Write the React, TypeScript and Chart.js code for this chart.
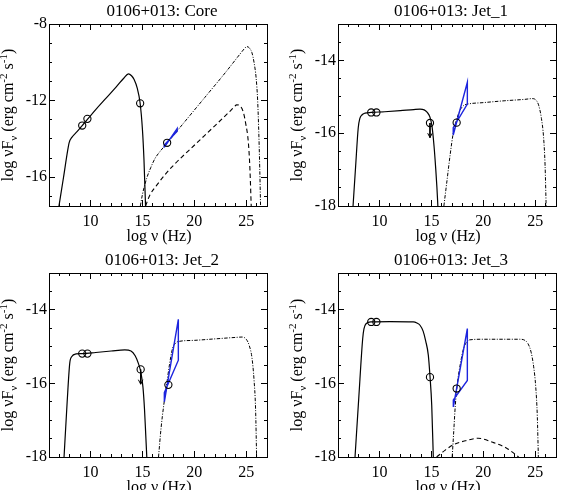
import React, { useEffect, useRef } from "react";
import { Chart, registerables } from "chart.js";

Chart.register(...registerables);

type P = [number, number];

// ---------- axes ----------
const X_MIN = 6;
const X_MAX = 27;
const xMajorTicks = [10, 15, 20, 25];
const xMinorTicks = [7, 8, 9, 11, 12, 13, 14, 16, 17, 18, 19, 21, 22, 23, 24, 26];

const coreYRange: P = [-17.5, -8];
const coreYMajor = [-16, -12, -8];
const coreYMinor = [-17, -15, -14, -13, -11, -10, -9];

const jetYRange: P = [-18, -13];
const jetYMajor = [-18, -16, -14];
const jetYMinor = [-17.5, -17, -16.5, -15.5, -15, -14.5, -13.5, -13];

const panelTitles = ["0106+013: Core", "0106+013: Jet_1", "0106+013: Jet_2", "0106+013: Jet_3"];

// ---------- Core ----------
const coreSynchrotron: P[] = [
  [6.96, -17.5], [7.4, -16.0], [7.8, -14.6], [7.95, -14.18], [8.2, -13.92], [8.7, -13.62],
  [9.2, -13.3], [9.7, -12.98], [10.5, -12.47], [11.5, -11.87], [12.5, -11.27], [13.2, -10.83],
  [13.65, -10.6], [13.95, -10.7], [14.2, -10.9], [14.5, -11.35], [14.77, -12.1], [15.0, -13.5],
  [15.15, -15.1], [15.3, -17.5],
];
const coreDashDot: P[] = [
  [14.8, -17.5], [15.0, -16.9], [15.4, -16.07], [15.8, -15.5], [16.2, -15.03], [16.7, -14.65],
  [17.2, -14.33], [17.4, -14.2], [19, -13.15], [21, -11.84], [23, -10.53], [24.5, -9.5],
  [24.85, -9.27], [25.05, -9.18], [25.3, -9.25], [25.55, -9.5], [25.75, -10.0], [25.95, -10.8],
  [26.1, -12.0], [26.2, -13.5], [26.3, -15.5], [26.38, -17.5],
];
const coreDashed: P[] = [
  [15.3, -17.5], [15.7, -16.95], [16.4, -16.4], [17.2, -15.85], [18, -15.37], [20, -14.33],
  [22, -13.3], [23.4, -12.57], [23.85, -12.32], [24.08, -12.22], [24.45, -12.3], [24.72, -12.6],
  [24.95, -13.2], [25.2, -14.16], [25.35, -15.5], [25.48, -17.5],
];
const coreFluxes: P[] = [[9.2, -13.3], [9.7, -12.95], [14.78, -12.14], [17.38, -14.2]];
const coreUpperLimits: P[] = [];
const coreUpperLimitTips: P[] = [];
const coreBowtie: P[] = [[17.1, -14.44], [18.35, -13.45], [18.35, -13.6], [17.1, -14.32], [17.1, -14.44]];

// ---------- Jet_1 ----------
const jet1Synchrotron: P[] = [
  [7.45, -18], [7.7, -16.9], [7.95, -15.85], [8.1, -15.6], [8.3, -15.5], [8.6, -15.45],
  [9.2, -15.43], [10.5, -15.41], [12, -15.38], [13.3, -15.35], [13.9, -15.34], [14.3, -15.36],
  [14.6, -15.43], [14.85, -15.55], [15.05, -15.8], [15.25, -16.35], [15.42, -17.0], [15.53, -17.5],
  [15.62, -18],
];
const jet1DashDot: P[] = [
  [16.2, -18], [16.5, -17.3], [16.8, -16.6], [17.1, -16.0], [17.4, -15.65], [17.7, -15.4],
  [18.1, -15.24], [18.5, -15.2], [20, -15.16], [22, -15.11], [24, -15.07], [24.7, -15.05],
  [25.1, -15.1], [25.35, -15.25], [25.6, -15.6], [25.8, -16.1], [25.95, -16.9], [26.05, -18],
];
const jet1Dashed: P[] = [];
const jet1Fluxes: P[] = [[9.2, -15.43], [9.7, -15.43], [17.43, -15.71]];
const jet1UpperLimits: P[] = [[14.86, -15.72]];
const jet1UpperLimitTips: P[] = [[14.86, -16.12]];
const jet1Bowtie: P[] = [[17.1, -16.05], [18.46, -14.6], [18.46, -15.2], [17.1, -15.85], [17.1, -16.05]];

// ---------- Jet_2 ----------
const jet2Synchrotron: P[] = [
  [7.45, -18], [7.75, -16.5], [8.0, -15.45], [8.2, -15.27], [8.6, -15.2], [9.2, -15.19],
  [10.5, -15.16], [12, -15.12], [13.3, -15.09], [13.9, -15.12], [14.3, -15.25], [14.6, -15.45],
  [14.85, -15.7], [15.05, -16.1], [15.2, -16.7], [15.32, -17.4], [15.42, -18],
];
const jet2DashDot: P[] = [
  [16.55, -18], [16.8, -17.2], [17.05, -16.6], [17.3, -16.1], [17.6, -15.5], [17.9, -15.05],
  [18.2, -14.9], [18.5, -14.86], [20, -14.83], [22, -14.79], [24, -14.75], [24.6, -14.74],
  [25.0, -14.8], [25.3, -14.98], [25.55, -15.3], [25.75, -15.9], [25.9, -16.7], [26.0, -18],
];
const jet2Dashed: P[] = [];
const jet2Fluxes: P[] = [[9.2, -15.19], [9.7, -15.19], [17.5, -16.04]];
const jet2UpperLimits: P[] = [[14.83, -15.62]];
const jet2UpperLimitTips: P[] = [[14.83, -16.02]];
const jet2Bowtie: P[] = [[17.11, -16.5], [18.46, -14.26], [18.46, -15.37], [17.11, -16.25], [17.11, -16.5]];

// ---------- Jet_3 ----------
const jet3Synchrotron: P[] = [
  [7.64, -18], [8.0, -16.4], [8.38, -14.78], [8.5, -14.52], [8.7, -14.38], [9.2, -14.33],
  [11, -14.32], [13.25, -14.33], [13.6, -14.36], [13.9, -14.42], [14.2, -14.58], [14.45, -14.85],
  [14.7, -15.23], [14.86, -15.8], [15.03, -16.6], [15.18, -18],
];
const jet3DashDot: P[] = [
  [17.0, -18], [17.15, -17.3], [17.3, -16.6], [17.5, -16.0], [17.8, -15.45], [18.1, -15.05],
  [18.4, -14.87], [18.6, -14.82], [20, -14.8], [22, -14.8], [23.5, -14.8], [24.0, -14.83],
  [24.3, -14.92], [24.6, -15.15], [24.85, -15.55], [25.05, -16.1], [25.2, -16.9], [25.3, -18],
];
const jet3Dashed: P[] = [
  [15.5, -18], [16.3, -17.82], [17.1, -17.67], [18.4, -17.55], [19.5, -17.49], [20.9, -17.6],
  [22.25, -17.76], [23.4, -18],
];
const jet3Fluxes: P[] = [[9.2, -14.33], [9.7, -14.33], [14.86, -15.83], [17.43, -16.14]];
const jet3UpperLimits: P[] = [];
const jet3UpperLimitTips: P[] = [];
const jet3Bowtie: P[] = [[17.11, -16.64], [18.46, -14.51], [18.46, -15.92], [17.11, -16.45], [17.11, -16.64]];

// ---------- panel layout (styles, not data) ----------
interface PanelDef {
  title: string;
  left: number; top: number; w: number; h: number;
  axisLeft: number; axisBottom: number; padTop: number; padRight: number;
  yRange: P; yMajor: number[]; yMinor: number[];
  sync: P[]; dashDot: P[]; dashed: P[]; fluxes: P[]; ul: P[]; ulTips: P[]; bowtie: P[];
}

const panels: PanelDef[] = [
  {
    title: panelTitles[0], left: 0, top: 0, w: 280, h: 245,
    axisLeft: 49, axisBottom: 39, padTop: 24, padRight: 13,
    yRange: coreYRange, yMajor: coreYMajor, yMinor: coreYMinor,
    sync: coreSynchrotron, dashDot: coreDashDot, dashed: coreDashed, fluxes: coreFluxes,
    ul: coreUpperLimits, ulTips: coreUpperLimitTips, bowtie: coreBowtie,
  },
  {
    title: panelTitles[1], left: 280, top: 0, w: 281, h: 245,
    axisLeft: 58, axisBottom: 39, padTop: 24, padRight: 5,
    yRange: jetYRange, yMajor: jetYMajor, yMinor: jetYMinor,
    sync: jet1Synchrotron, dashDot: jet1DashDot, dashed: jet1Dashed, fluxes: jet1Fluxes,
    ul: jet1UpperLimits, ulTips: jet1UpperLimitTips, bowtie: jet1Bowtie,
  },
  {
    title: panelTitles[2], left: 0, top: 245, w: 280, h: 245,
    axisLeft: 49, axisBottom: 33, padTop: 28, padRight: 13,
    yRange: jetYRange, yMajor: jetYMajor, yMinor: jetYMinor,
    sync: jet2Synchrotron, dashDot: jet2DashDot, dashed: jet2Dashed, fluxes: jet2Fluxes,
    ul: jet2UpperLimits, ulTips: jet2UpperLimitTips, bowtie: jet2Bowtie,
  },
  {
    title: panelTitles[3], left: 280, top: 245, w: 281, h: 245,
    axisLeft: 58, axisBottom: 33, padTop: 28, padRight: 5,
    yRange: jetYRange, yMajor: jetYMajor, yMinor: jetYMinor,
    sync: jet3Synchrotron, dashDot: jet3DashDot, dashed: jet3Dashed, fluxes: jet3Fluxes,
    ul: jet3UpperLimits, ulTips: jet3UpperLimitTips, bowtie: jet3Bowtie,
  },
];

const FONT = '"Liberation Serif", "Times New Roman", serif';
const BLUE = "rgb(28,36,222)";

function axisScale(
  axis: "x" | "y", position: string, min: number, max: number, ticks: number[],
  major: boolean, labels: boolean, size: number,
) {
  return {
    type: "linear",
    axis,
    position,
    min,
    max,
    weight: labels ? 1 : 0,
    afterBuildTicks: (s: any) => {
      s.ticks = ticks.map((v) => ({ value: v }));
    },
    afterFit: (s: any) => {
      if (axis === "x") s.height = size;
      else s.width = size;
    },
    grid: {
      display: true,
      drawOnChartArea: false,
      drawTicks: true,
      tickLength: major ? -6 : -3,
      tickColor: "#000",
      tickWidth: 1,
      color: "#000",
    },
    border: { display: major, color: "#000", width: 1 },
    ticks: {
      display: labels,
      autoSkip: false,
      maxRotation: 0,
      minRotation: 0,
      padding: axis === "x" ? 12 : 8,
      color: "#000",
      font: { family: FONT, size: 16 },
      callback: (v: any) => String(v),
    },
  };
}

const toXY = (pts: P[]) => pts.map(([x, y]) => ({ x, y }));

const textPlugin = {
  id: "sedText",
  afterDraw(chart: any, _args: any, opts: any) {
    const { ctx, chartArea: a } = chart;
    const cx = (a.left + a.right) / 2;
    ctx.save();
    ctx.fillStyle = "#000";
    // title
    ctx.font = `17px ${FONT}`;
    ctx.textAlign = "center";
    ctx.textBaseline = "alphabetic";
    ctx.fillText(opts.title, cx + 4, a.top - 8);
    // x axis title
    ctx.font = `16px ${FONT}`;
    ctx.textBaseline = "middle";
    ctx.fillText("log \u03bd (Hz)", cx + 1, a.bottom + 31);
    // y axis title with sub/superscripts
    const segs = [
      { t: "log \u03bdF", s: 16, dy: 0 },
      { t: "\u03bd", s: 11, dy: 4 },
      { t: " (erg cm", s: 16, dy: 0 },
      { t: "-2", s: 11, dy: -6 },
      { t: " s", s: 16, dy: 0 },
      { t: "-1", s: 11, dy: -6 },
      { t: ")", s: 16, dy: 0 },
    ];
    ctx.translate(a.left - 41, (a.top + a.bottom) / 2);
    ctx.rotate(-Math.PI / 2);
    ctx.textAlign = "left";
    ctx.textBaseline = "alphabetic";
    let total = 0;
    const widths = segs.map((sg) => {
      ctx.font = `${sg.s}px ${FONT}`;
      const w = ctx.measureText(sg.t).width;
      total += w;
      return w;
    });
    let u = -total / 2;
    segs.forEach((sg, i) => {
      ctx.font = `${sg.s}px ${FONT}`;
      ctx.fillText(sg.t, u, 5 + sg.dy);
      u += widths[i];
    });
    ctx.restore();
  },
};

function buildConfig(p: PanelDef): any {
  const lineBase = {
    showLine: true,
    pointRadius: 0,
    pointHoverRadius: 0,
    fill: false,
    borderColor: "#000",
    borderWidth: 1.2,
    cubicInterpolationMode: "monotone",
    xAxisID: "x",
    yAxisID: "y",
    order: 4,
  };
  const datasets: any[] = [];
  datasets.push({ ...lineBase, data: toXY(p.sync) });
  datasets.push({ ...lineBase, data: toXY(p.dashDot), borderDash: [3.5, 1.5, 1, 1.5], borderWidth: 1 });
  if (p.dashed.length) datasets.push({ ...lineBase, data: toXY(p.dashed), borderDash: [4.5, 3], borderWidth: 1.1 });
  datasets.push({
    ...lineBase,
    data: toXY(p.bowtie),
    borderColor: BLUE,
    borderWidth: 1.4,
    cubicInterpolationMode: "default",
    tension: 0,
    order: 2,
  });
  p.ul.forEach(([x, y], i) => {
    const tip = p.ulTips[i];
    datasets.push({ ...lineBase, data: toXY([[x, y], tip]), cubicInterpolationMode: "default", tension: 0, borderWidth: 1, order: 1 });
    datasets.push({
      ...lineBase,
      data: toXY([[tip[0] - 0.22, tip[1] + 0.12], tip, [tip[0] + 0.22, tip[1] + 0.12]]),
      cubicInterpolationMode: "default",
      tension: 0,
      borderWidth: 1,
      order: 1,
    });
  });
  datasets.push({
    data: toXY([...p.fluxes, ...p.ul]),
    showLine: false,
    pointStyle: "circle",
    pointRadius: 3.6,
    pointHoverRadius: 3.6,
    pointBorderWidth: 1.1,
    pointBorderColor: "#000",
    pointBackgroundColor: "rgba(0,0,0,0)",
    xAxisID: "x",
    yAxisID: "y",
    order: 0,
  });

  const [ymin, ymax] = p.yRange;
  return {
    type: "scatter",
    data: { datasets },
    options: {
      responsive: false,
      maintainAspectRatio: false,
      animation: false,
      events: [],
      layout: { padding: { left: 0, bottom: 0, top: p.padTop, right: p.padRight } },
      plugins: {
        legend: { display: false },
        tooltip: { enabled: false },
        title: { display: false },
        sedText: { title: p.title },
      },
      scales: {
        x: axisScale("x", "bottom", X_MIN, X_MAX, xMajorTicks, true, true, p.axisBottom),
        xMinor: axisScale("x", "bottom", X_MIN, X_MAX, xMinorTicks, false, false, 0),
        xTop: axisScale("x", "top", X_MIN, X_MAX, xMajorTicks, true, false, 0),
        xTopMinor: axisScale("x", "top", X_MIN, X_MAX, xMinorTicks, false, false, 0),
        y: axisScale("y", "left", ymin, ymax, p.yMajor, true, true, p.axisLeft),
        yMinor: axisScale("y", "left", ymin, ymax, p.yMinor, false, false, 0),
        yRight: axisScale("y", "right", ymin, ymax, p.yMajor, true, false, 0),
        yRightMinor: axisScale("y", "right", ymin, ymax, p.yMinor, false, false, 0),
      },
    },
    plugins: [textPlugin],
  };
}

function Panel({ def }: { def: PanelDef }) {
  const ref = useRef<HTMLCanvasElement | null>(null);
  useEffect(() => {
    if (!ref.current) return;
    const chart = new Chart(ref.current, buildConfig(def));
    return () => chart.destroy();
  }, [def]);
  return (
    <canvas
      ref={ref}
      width={def.w}
      height={def.h}
      style={{ position: "absolute", left: def.left, top: def.top, width: def.w, height: def.h, display: "block" }}
    />
  );
}

export default function App() {
  return (
    <div style={{ position: "absolute", left: 0, top: 0, width: 561, height: 490, background: "#fff", overflow: "hidden" }}>
      {panels.map((p) => (
        <Panel key={p.title} def={p} />
      ))}
    </div>
  );
}
